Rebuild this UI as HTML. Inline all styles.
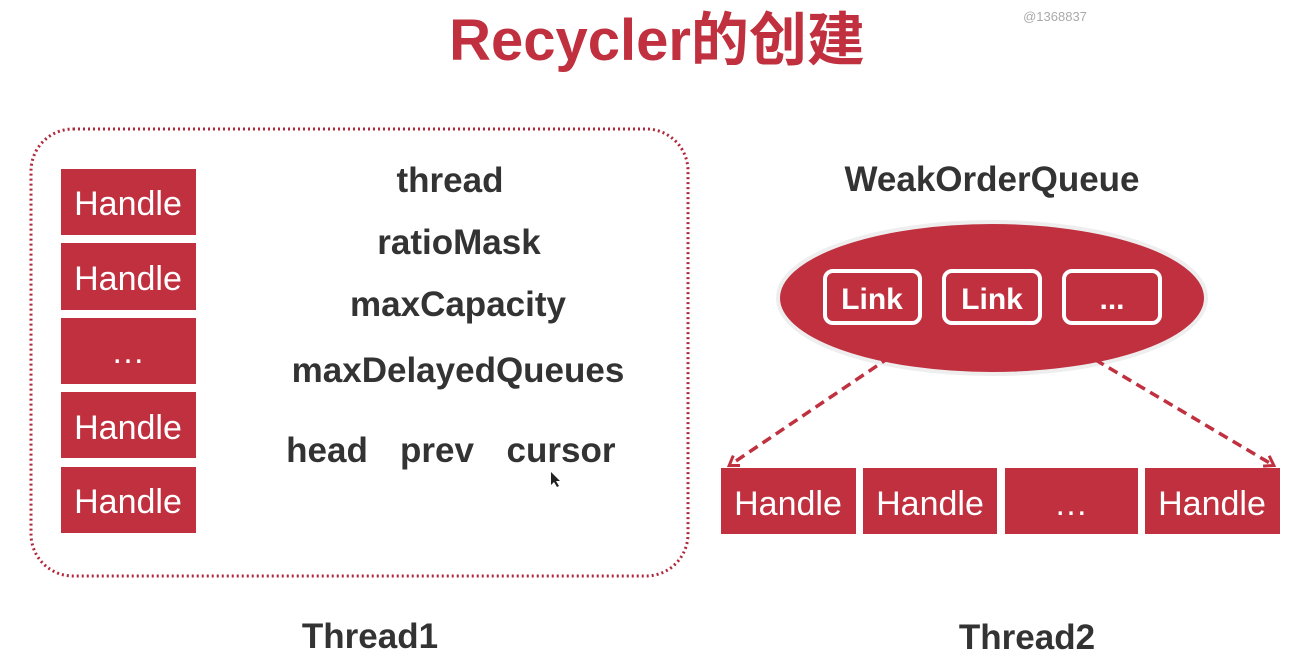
<!DOCTYPE html>
<html><head><meta charset="utf-8"><style>
body{margin:0;width:1291px;height:662px;background:#fff;overflow:hidden;font-family:"Liberation Sans","Noto Sans CJK SC",sans-serif;}
svg{position:absolute;left:0;top:0}
</style></head><body>
<svg width="1291" height="662" viewBox="0 0 1291 662" font-family="Liberation Sans, Noto Sans CJK SC, sans-serif">
<defs>
<marker id="ah" markerWidth="14" markerHeight="14" refX="10" refY="7" orient="auto" markerUnits="userSpaceOnUse">
<path d="M2,1 L11,7 L2,13" fill="none" stroke="#c0303f" stroke-width="3"/>
</marker>
</defs>
<text x="657" y="60" text-anchor="middle" font-size="58" font-weight="bold" fill="#c0303f">Recycler的创建</text>
<text x="1055" y="21" text-anchor="middle" font-size="13" fill="#aaa">@1368837</text>
<rect x="31" y="129" width="657" height="447" rx="42" fill="none" stroke="#b0283a" stroke-width="3" stroke-dasharray="2 3"/>
<g fill="#c0303f">
<rect x="61" y="169" width="135" height="66"/>
<rect x="61" y="243" width="135" height="67"/>
<rect x="61" y="318" width="135" height="66"/>
<rect x="61" y="392" width="135" height="66"/>
<rect x="61" y="467" width="135" height="66"/>
</g>
<g fill="#fff" font-size="34" text-anchor="middle">
<text x="128" y="215">Handle</text>
<text x="128" y="290">Handle</text>
<text x="128" y="363">…</text>
<text x="128" y="439">Handle</text>
<text x="128" y="513">Handle</text>
</g>
<g fill="#333" font-size="35" font-weight="bold" text-anchor="middle">
<text x="450" y="192">thread</text>
<text x="459" y="254">ratioMask</text>
<text x="458" y="316">maxCapacity</text>
<text x="458" y="382">maxDelayedQueues</text>
<text x="327" y="462">head</text>
<text x="437" y="462">prev</text>
<text x="561" y="462">cursor</text>
<text x="370" y="648">Thread1</text>
<text x="1027" y="649">Thread2</text>
<text x="992" y="191">WeakOrderQueue</text>
</g>
<ellipse cx="992" cy="298" rx="214" ry="76" fill="#c0303f" stroke="#eee" stroke-width="4"/>
<g fill="#c0303f" stroke="#fff" stroke-width="4">
<rect x="825" y="271" width="95" height="52" rx="8"/>
<rect x="944" y="271" width="96" height="52" rx="8"/>
<rect x="1064" y="271" width="96" height="52" rx="8"/>
</g>
<g fill="#fff" font-size="30" font-weight="bold" text-anchor="middle">
<text x="872" y="309">Link</text>
<text x="992" y="309">Link</text>
<text x="1112" y="309">...</text>
</g>
<g stroke="#c0303f" stroke-width="3.5" stroke-dasharray="10 6" fill="none">
<line x1="930" y1="330" x2="730" y2="465" marker-end="url(#ah)"/>
<line x1="1040" y1="327" x2="1273" y2="465" marker-end="url(#ah)"/>
</g>
<g fill="#c0303f">
<rect x="721" y="468" width="135" height="66"/>
<rect x="863" y="468" width="134" height="66"/>
<rect x="1005" y="468" width="133" height="66"/>
<rect x="1145" y="468" width="135" height="66"/>
</g>
<g fill="#fff" font-size="34" text-anchor="middle">
<text x="788" y="515">Handle</text>
<text x="930" y="515">Handle</text>
<text x="1071" y="515">…</text>
<text x="1212" y="515">Handle</text>
</g>
<path d="M551,472 l0,13 l3,-3 l3,5 l2,-1 l-3,-5 l4,0 z" fill="#222"/>
</svg>
</body></html>
